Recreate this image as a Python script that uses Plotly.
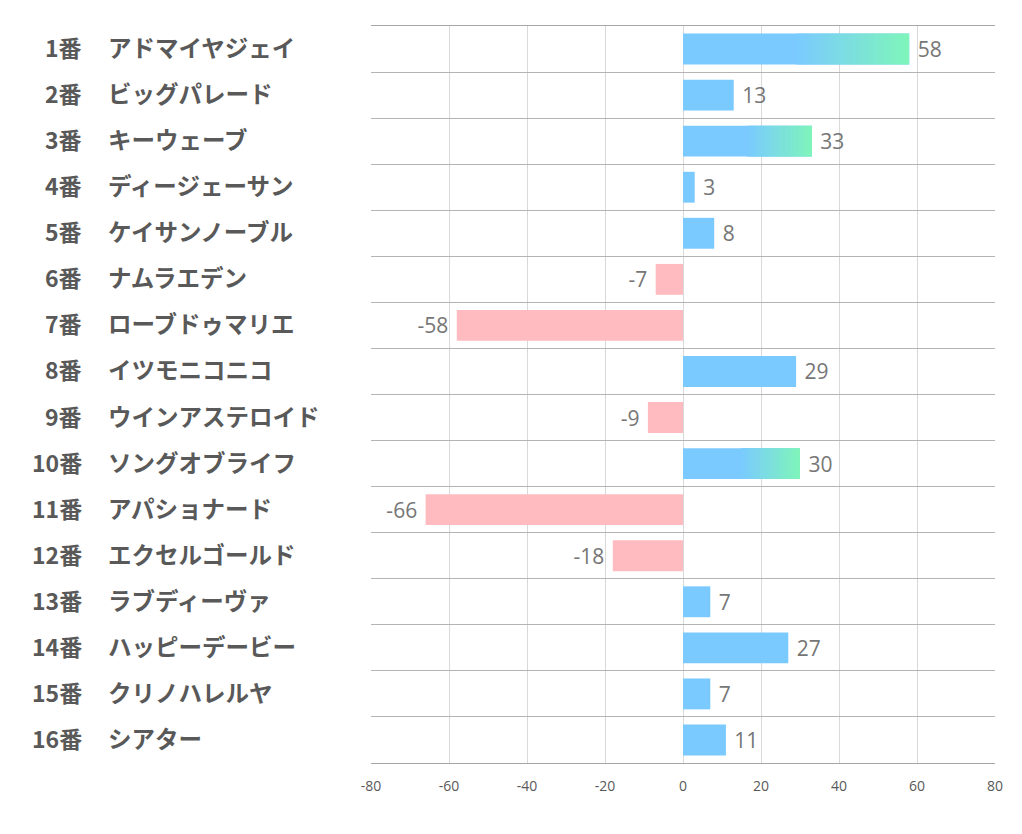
import plotly.graph_objects as go

# データ ------------------------------------------------------------------
umaban = ['1番', '2番', '3番', '4番', '5番', '6番', '7番', '8番',
          '9番', '10番', '11番', '12番', '13番', '14番', '15番', '16番']
bamei = ['アドマイヤジェイ', 'ビッグパレード', 'キーウェーブ', 'ディージェーサン',
         'ケイサンノーブル', 'ナムラエデン', 'ローブドゥマリエ', 'イツモニコニコ',
         'ウインアステロイド', 'ソングオブライフ', 'アパショナード', 'エクセルゴールド',
         'ラブディーヴァ', 'ハッピーデービー', 'クリノハレルヤ', 'シアター']
score = [58, 13, 33, 3, 8, -7, -58, 29, -9, 30, -66, -18, 7, 27, 7, 11]
x_ticks = [-80, -60, -40, -20, 0, 20, 40, 60, 80]

BLUE = (122, 202, 255)
GREEN = (126, 245, 186)
PINK = '#FFBBBF'
N_GRAD = 40
GRAD_MIN = 30  # これ以上のスコアはグラデーション

fig = go.Figure()

# ベースの棒（値ラベル付き）
fig.add_trace(go.Bar(
    y=umaban,
    x=score,
    orientation='h',
    marker_color=['rgb(%d,%d,%d)' % BLUE if v > 0 else PINK for v in score],
    marker_line_width=0,
    text=[(' %d' % v) if v > 0 else ('%d ' % v) for v in score],
    textposition='outside',
    textfont=dict(size=21, color='#767676', family='Open Sans, Noto Sans'),
    cliponaxis=False,
    hoverinfo='skip',
))

# グラデーション部分（棒の後半を小さな区間に分けて重ねる）
for k in range(N_GRAD):
    t = (k + 0.5) / N_GRAD
    col = 'rgb(%d,%d,%d)' % tuple(round(BLUE[i] + (GREEN[i] - BLUE[i]) * t) for i in range(3))
    seg_w, seg_b = [], []
    for v in score:
        if v >= GRAD_MIN:
            step = v * 0.5 / N_GRAD
            seg_b.append(v * 0.5 + k * step)
            seg_w.append(step * (1.0 if k == N_GRAD - 1 else 1.3))
        else:
            seg_b.append(None)
            seg_w.append(None)
    fig.add_trace(go.Bar(
        y=umaban, x=seg_w, base=seg_b, orientation='h',
        marker_color=col, marker_line_width=0,
        hoverinfo='skip', showlegend=False,
    ))

# 左側のラベル（番号は右揃え、馬名は左揃え）
num_font = dict(size=23, color='#595959', family='Noto Sans CJK JP')
name_font = dict(size=23.5, color='#595959', family='Noto Sans CJK JP')
for u, b in zip(umaban, bamei):
    fig.add_annotation(x=-0.46, xref='paper', y=u, yref='y', yshift=2, text='<b>%s</b>' % u,
                       xanchor='right', showarrow=False, font=num_font)
    fig.add_annotation(x=-0.4247, xref='paper', y=u, yref='y', yshift=2, text='<b>%s</b>' % b,
                       xanchor='left', showarrow=False, font=name_font)

fig.update_layout(
    width=1022, height=834,
    barmode='overlay',
    bargap=0.33,
    showlegend=False,
    plot_bgcolor='white',
    paper_bgcolor='white',
    margin=dict(l=363, r=35, t=18, b=79),
)
fig.update_xaxes(
    range=[-80, 80],
    tickvals=x_ticks,
    ticktext=[str(v) for v in x_ticks],
    showgrid=True, gridcolor='#d9d9d9', gridwidth=1,
    zeroline=False,
    showline=True, mirror=True, linecolor='#a6a6a6', linewidth=1,
    ticks='outside', ticklen=10, tickcolor='white',
    tickfont=dict(size=14, color='#595959', family='Open Sans, Noto Sans'),
)
fig.update_yaxes(
    type='category',
    categoryorder='array', categoryarray=umaban,
    autorange='reversed',
    tickson='boundaries',
    showgrid=True, gridcolor='#b4b4b4', gridwidth=1,
    showticklabels=False,
    ticks='',
)

fig.write_html("out.html")
